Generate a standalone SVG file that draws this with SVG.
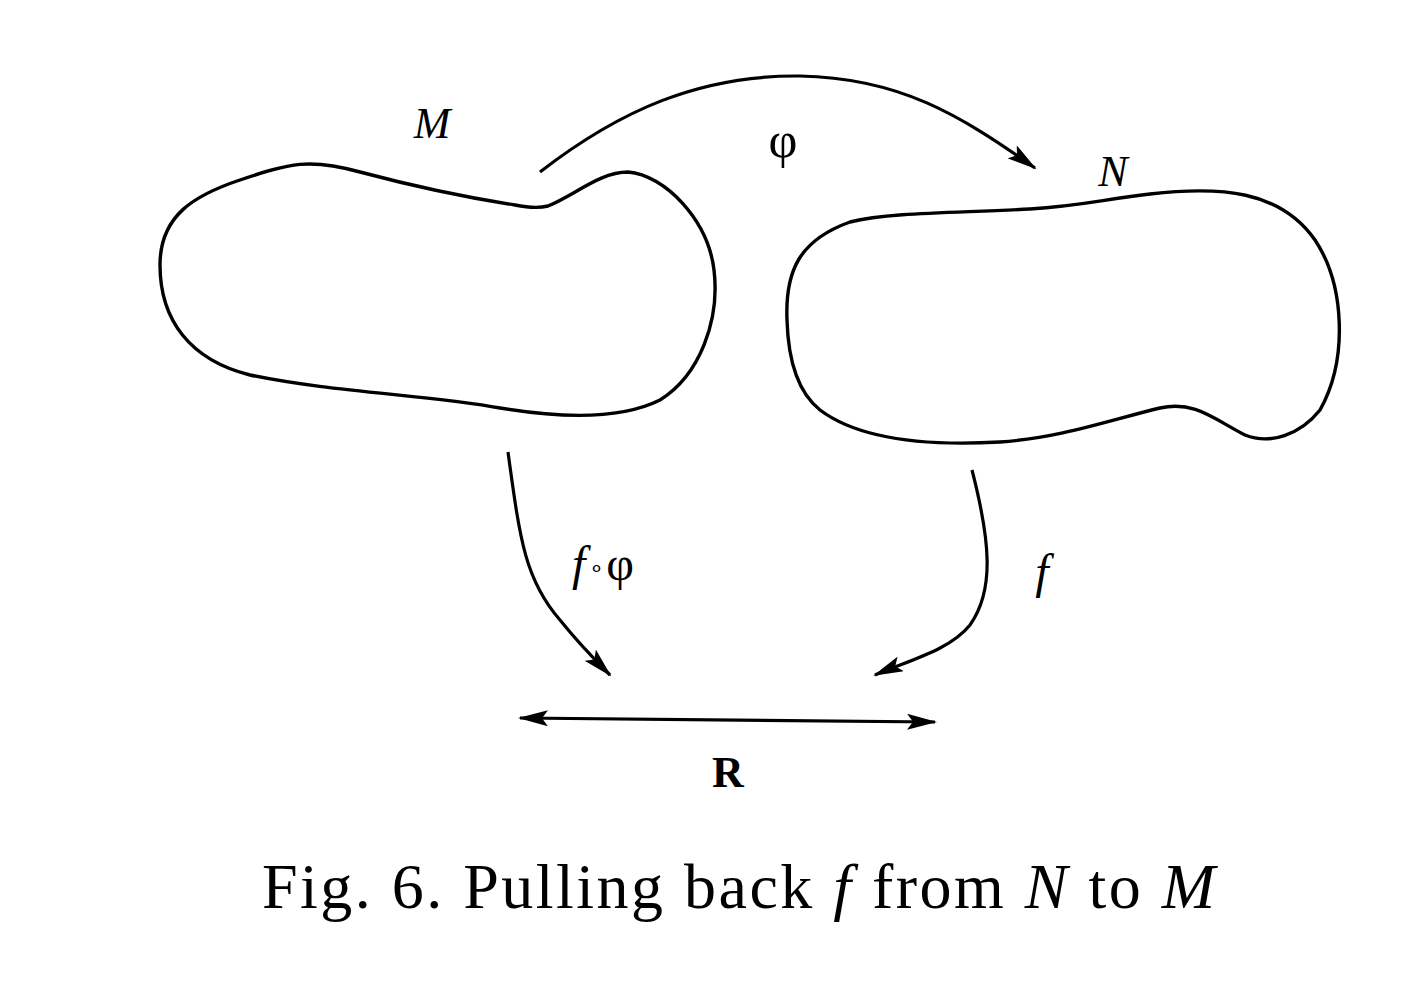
<svg xmlns="http://www.w3.org/2000/svg" width="1420" height="990" viewBox="0 0 1420 990">
<style>
.blob{fill:none;stroke:#000;stroke-width:3.4;stroke-linejoin:round}
.conn{fill:none;stroke:#000;stroke-width:3.2}
.lbl{font-family:"Liberation Serif",serif;fill:#000}
.it{font-style:italic}
</style>
<defs>
<marker id="ah" viewBox="0 0 30 16" refX="28" refY="8" markerWidth="30" markerHeight="16" markerUnits="userSpaceOnUse" orient="auto-start-reverse">
<path d="M0,0 L30,8 L0,16 L6,8 Z" fill="#000"/>
</marker>
</defs>
<rect width="1420" height="990" fill="#fff"/>
<g id="nodeM">
<path class="blob" d="M548,206 C575,195 600,172 628,172 C665,175 708,220 714,270 C720,320 700,375 660,400 C620,420 560,418 500,408 C430,395 330,392 250,375 C190,360 160,320 160,265 C160,215 195,195 240,180 C290,163 310,158 360,172 C420,188 470,198 515,205 C530,208 540,208 548,206 Z"/>
<text class="lbl it" x="432" y="138" font-size="44" text-anchor="middle">M</text>
</g>
<g id="nodeN">
<path class="blob" d="M787,320 C785,270 800,240 850,222 C890,212 960,213 1030,209 C1080,206 1100,200 1150,194 C1220,186 1280,190 1315,240 C1345,285 1348,360 1320,410 C1300,435 1270,445 1245,435 C1215,420 1195,400 1160,408 C1110,420 1060,438 1000,442 C930,446 860,440 820,410 C795,390 788,355 787,320 Z"/>
<text class="lbl it" x="1113" y="186" font-size="44" text-anchor="middle">N</text>
</g>
<g id="nodeR">
<text class="lbl" x="728" y="787" font-size="44" font-weight="bold" text-anchor="middle">R</text>
</g>
<g id="connectors">
<path class="conn" d="M540,172 C620,110 700,75 800,76 C900,78 960,115 1035,168" marker-end="url(#ah)"/>
<text class="lbl" x="783" y="157" font-size="50" text-anchor="middle">φ</text>
<path class="conn" d="M508,452 C520,540 525,580 560,620 C580,645 595,660 610,675" marker-end="url(#ah)"/>
<text class="lbl" x="572" y="580" font-size="48"><tspan class="it">f</tspan><tspan font-size="24" dx="4" dy="-4">∘</tspan><tspan dx="2" dy="4">φ</tspan></text>
<path class="conn" d="M972,470 C990,540 995,590 970,625 C950,650 910,660 875,675" marker-end="url(#ah)"/>
<text class="lbl it" x="1042" y="588" font-size="48" text-anchor="middle">f</text>
<path class="conn" d="M520,718 L935,722" marker-start="url(#ah)" marker-end="url(#ah)"/>
</g>
<text class="lbl" x="262" y="908" font-size="64" textLength="953" lengthAdjust="spacing">Fig. 6. Pulling back <tspan class="it">f</tspan> from <tspan class="it">N</tspan> to <tspan class="it">M</tspan></text>
</svg>
